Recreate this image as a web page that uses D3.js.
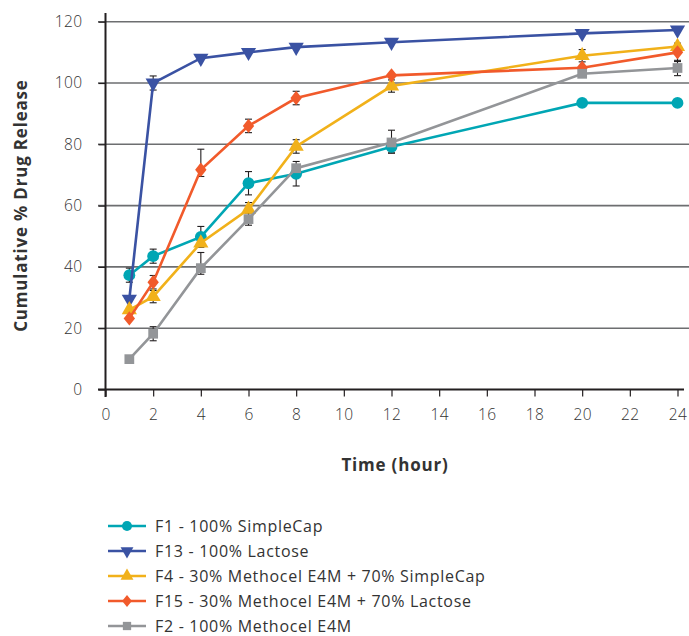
<!DOCTYPE html>
<html>
<head>
<meta charset="utf-8">
<script src="https://cdn.jsdelivr.net/npm/d3@7"></script>
<style>
  body { margin: 0; background: #fff; }
  svg { display: block; }
  text { font-family: "Open Sans", Lato, sans-serif; fill: #333; }
</style>
</head>
<body>
<script>

// time points (hours)
const hours = [1, 2, 4, 6, 8, 12, 20, 24];

// series labels in legend order
const labels = [
    "F1 - 100% SimpleCap",
    "F13 - 100% Lactose",
    "F4 - 30% Methocel E4M + 70% SimpleCap",
    "F15 - 30% Methocel E4M + 70% Lactose",
    "F2 - 100% Methocel E4M"
];

// cumulative % release
const f1  = [37.3, 43.5, 49.8, 67.3, 70.4, 79.2, 93.5, 93.5];
const f13 = [29.5, 100.0, 108.1, 110.0, 111.7, 113.3, 116.2, 117.3];
const f4  = [26.0, 30.3, 47.8, 58.8, 79.3, 99.0, 108.9, 111.9];
const f15 = [23.2, 35.0, 71.7, 86.0, 95.1, 102.5, 105.0, 110.0];
const f2  = [9.9, 18.2, 39.6, 55.6, 72.2, 80.6, 103.0, 104.9];

// error bars (upper / lower)
const f1Hi  = [2.3, 2.3, 3.4, 3.8, 4.0, 2.0, 0, 0];
const f1Lo  = [2.3, 2.3, 3.4, 3.8, 4.0, 2.0, 0, 0];
const f13Hi = [0, 2.3, 0, 0, 0, 0, 0, 0];
const f13Lo = [0, 2.3, 0, 0, 0, 0, 0, 0];
const f4Hi  = [0, 2.0, 0, 2.2, 2.2, 2.0, 2.0, 0];
const f4Lo  = [0, 2.0, 0, 2.2, 2.2, 2.0, 2.0, 0];
const f15Hi = [0, 2.2, 6.7, 2.2, 2.2, 0, 0, 3.0];
const f15Lo = [0, 2.2, 2.2, 2.2, 2.2, 0, 0, 3.0];
const f2Hi  = [0, 2.3, 5.1, 2.0, 0, 4.0, 0, 2.5];
const f2Lo  = [0, 2.3, 2.0, 2.0, 0, 3.5, 0, 2.5];

const yTicks = [0, 20, 40, 60, 80, 100, 120];
const xTicks = [0, 2, 4, 6, 8, 10, 12, 14, 16, 18, 20, 22, 24];

const colors = ["#00a6b4", "#3a52a3", "#f1b11a", "#f15a2b", "#939598"];
const symbols = [d3.symbolCircle, "down", d3.symbolTriangle, "diamond", d3.symbolSquare];

const series = [
    { values: f1,  hi: f1Hi,  lo: f1Lo },
    { values: f13, hi: f13Hi, lo: f13Lo },
    { values: f4,  hi: f4Hi,  lo: f4Lo },
    { values: f15, hi: f15Hi, lo: f15Lo },
    { values: f2,  hi: f2Hi,  lo: f2Lo }
].map((s, i) => ({ ...s, label: labels[i], color: colors[i], symbol: symbols[i] }));

const W = 689, H = 636;

const x = d3.scaleLinear().domain([0, 24]).range([105.5, 677.5]);
const y = d3.scaleLinear().domain([0, 120]).range([389.5, 21.7]);

const svg = d3.select("body").append("svg")
    .attr("width", W)
    .attr("height", H);

// gridlines
svg.append("g")
    .selectAll("line")
    .data(yTicks.filter(d => d > 0))
    .join("line")
    .attr("x1", 98).attr("x2", W)
    .attr("y1", d => y(d)).attr("y2", d => y(d))
    .attr("stroke", "#6d6e70")
    .attr("stroke-width", 1.6);

// y axis
const yAxis = svg.append("g")
    .attr("transform", "translate(" + x(0) + ",0)")
    .call(d3.axisLeft(y).tickValues(yTicks).tickSize(7).tickPadding(16));
yAxis.select(".domain").remove();
yAxis.selectAll(".tick line").attr("stroke", "#231f20").attr("stroke-width", 1.2);
yAxis.selectAll("text").attr("font-size", 15.5).attr("font-weight", 300)
    .attr("letter-spacing", 0.4).attr("fill", "#333");
yAxis.append("line")
    .attr("x1", 0).attr("x2", 0)
    .attr("y1", 13).attr("y2", 397)
    .attr("stroke", "#231f20").attr("stroke-width", 2);

// x axis
const xAxis = svg.append("g")
    .attr("transform", "translate(0," + y(0) + ")")
    .call(d3.axisBottom(x).tickValues(xTicks).tickSize(7).tickPadding(12));
xAxis.select(".domain").remove();
xAxis.selectAll(".tick line").attr("stroke", "#231f20").attr("stroke-width", 1.2);
xAxis.selectAll("text").attr("font-size", 15.5).attr("font-weight", 300)
    .attr("letter-spacing", 0.4).attr("fill", "#333");
xAxis.append("line")
    .attr("x1", 98).attr("x2", 684)
    .attr("stroke", "#231f20").attr("stroke-width", 2);

// axis titles
svg.append("text")
    .attr("transform", "translate(27," + y(60) + ") rotate(-90)")
    .attr("text-anchor", "middle")
    .attr("font-size", 17)
    .attr("font-weight", 700)
    .attr("letter-spacing", 0.8)
    .attr("fill", "#231f20")
    .text("Cumulative % Drug Release");

svg.append("text")
    .attr("x", 395)
    .attr("y", 471)
    .attr("text-anchor", "middle")
    .attr("font-size", 17)
    .attr("font-weight", 700)
    .attr("letter-spacing", 0.8)
    .attr("fill", "#231f20")
    .text("Time (hour)");

function markerPath(sym) {
    if (sym === "down") return d3.symbol(d3.symbolTriangle, 100)();
    if (sym === "diamond") return "M0,-7.2L5.7,0L0,7.2L-5.7,0Z";
    if (sym === d3.symbolCircle) return d3.symbol(sym, 110)();
    if (sym === d3.symbolSquare) return d3.symbol(sym, 95)();
    return d3.symbol(sym, 100)();
}
function markerRotate(sym) { return sym === "down" ? " rotate(180)" : ""; }

// error bars
const errs = svg.append("g");
series.forEach(s => {
    hours.forEach((h, i) => {
        if (!s.hi[i] && !s.lo[i]) return;
        const cx = x(h), top = y(s.values[i] + s.hi[i]), bot = y(s.values[i] - s.lo[i]);
        errs.append("line").attr("x1", cx).attr("x2", cx).attr("y1", top).attr("y2", bot);
        errs.append("line").attr("x1", cx - 3.5).attr("x2", cx + 3.5).attr("y1", top).attr("y2", top);
        errs.append("line").attr("x1", cx - 3.5).attr("x2", cx + 3.5).attr("y1", bot).attr("y2", bot);
    });
});
errs.selectAll("line").attr("stroke", "#231f20").attr("stroke-width", 1.1);

// lines and markers
const line = d3.line().x((d, i) => x(hours[i])).y(d => y(d));

series.forEach(s => {
    const g = svg.append("g");
    g.append("path")
        .attr("d", line(s.values))
        .attr("fill", "none")
        .attr("stroke", s.color)
        .attr("stroke-width", 2.6);
    g.selectAll("path.m")
        .data(s.values)
        .join("path")
        .attr("class", "m")
        .attr("d", markerPath(s.symbol))
        .attr("transform", (d, i) => "translate(" + x(hours[i]) + "," + y(d) + ")" + markerRotate(s.symbol))
        .attr("fill", s.color);
});

// legend
const legend = svg.append("g");
series.forEach((s, i) => {
    const ly = 526 + i * 25;
    legend.append("line")
        .attr("x1", 108).attr("x2", 146)
        .attr("y1", ly).attr("y2", ly)
        .attr("stroke", s.color).attr("stroke-width", 2.6);
    legend.append("path")
        .attr("d", markerPath(s.symbol))
        .attr("transform", "translate(127," + ly + ")" + markerRotate(s.symbol) + " scale(0.85)")
        .attr("fill", s.color);
    legend.append("text")
        .attr("x", 155)
        .attr("y", ly + 5.5)
        .attr("font-size", 16)
        .attr("font-weight", 400)
        .attr("letter-spacing", 0.7)
        .attr("fill", "#333")
        .text(s.label);
});

</script>
</body>
</html>
